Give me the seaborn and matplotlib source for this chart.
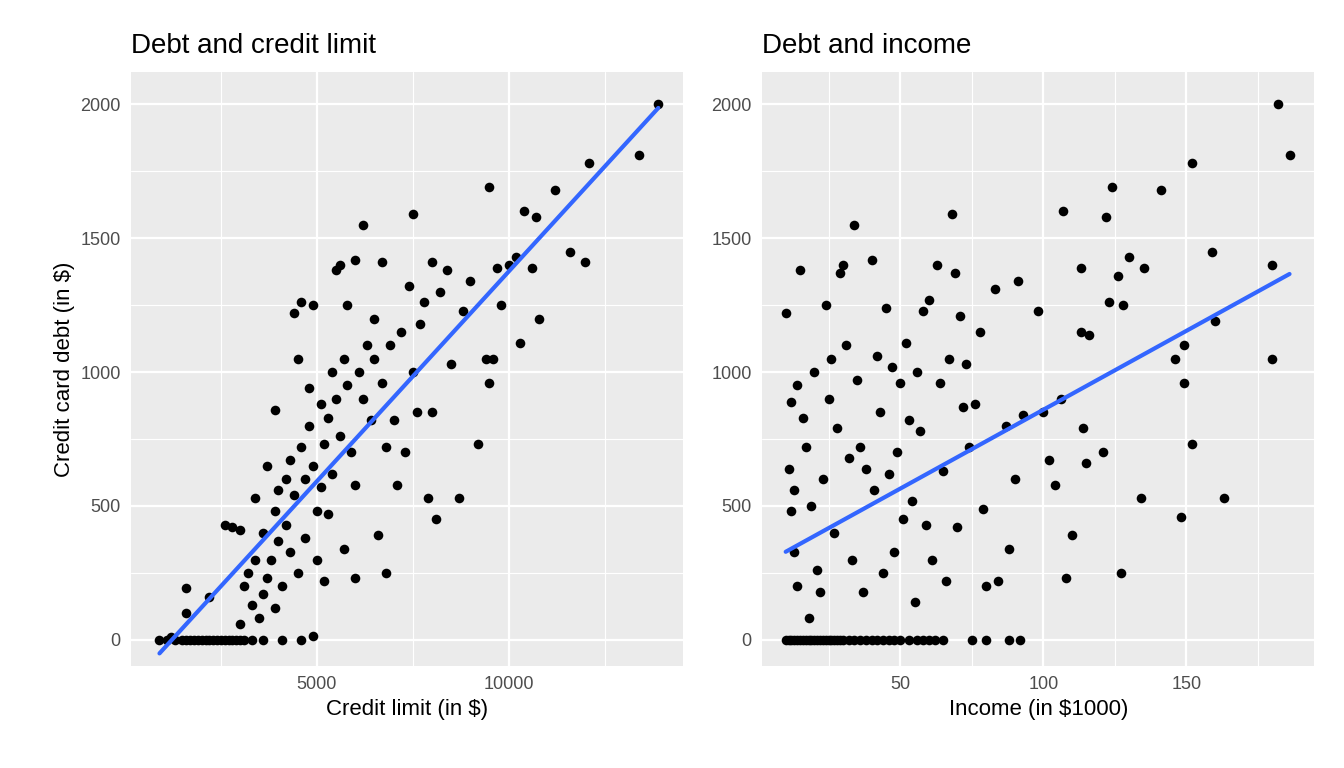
import matplotlib
matplotlib.use("Agg")
import matplotlib.pyplot as plt
import seaborn as sns
import pandas as pd

limit = [900,1100,1200,1300,1500,1600,1700,1800,1900,2000,2100,2200,2300,2400,2500,2600,2700,2800,2900,3000,3100,3300,3600,4100,4600,4900,
1600,1600,2200,2600,2800,3000,3000,3100,3200,3300,3400,3400,3500,3600,3600,3700,3700,3800,3900,3900,3900,4000,4000,4100,4200,4200,4300,4300,4400,4400,4500,4500,4600,4600,4700,4700,4800,4800,4900,4900,5000,5000,5100,5100,5200,5200,5300,5300,5400,5400,5500,5500,5600,5600,5700,5700,5800,5800,5900,6000,6000,6000,6100,6200,6200,6300,6400,6500,6500,6600,6700,6700,6800,6800,6900,7000,7100,7200,7300,7400,7500,7500,7600,7700,7800,7900,8000,8000,8100,8200,8400,8500,8700,8800,9000,9200,9400,9500,9500,9600,9700,9800,10000,10200,10300,10400,10600,10700,10800,11200,11600,12000,12100,13400,13900]
debt_l = [0,0,10,0,0,0,0,0,0,0,0,0,0,0,0,0,0,0,0,0,0,0,0,0,0,15,
100,195,160,430,420,410,60,200,250,130,530,300,80,400,170,650,230,300,860,480,120,370,560,200,600,430,670,330,1220,540,1050,250,1260,720,600,380,940,800,1250,650,480,300,880,570,220,730,830,470,1000,620,1380,900,1400,760,1050,340,1250,950,700,1420,580,230,1000,1550,900,1100,820,1200,1050,390,1410,960,250,720,1100,820,580,1150,700,1320,1590,1000,850,1180,1260,530,1410,850,450,1300,1380,1030,530,1230,1340,730,1050,960,1690,1050,1390,1250,1400,1430,1110,1600,1390,1580,1200,1680,1450,1410,1780,1810,2000]

income = [10,11,12,13,14,15,16,17,18,19,20,21,22,23,24,25,26,27,28,29,30,32,34,36,38,40,42,44,46,48,50,53,56,58,60,62,65,75,80,88,92,
10,11,12,13,14,12,13,14,15,16,17,18,19,20,21,22,23,24,25,26,27,28,29,30,31,32,33,34,35,36,37,38,40,41,42,43,44,45,46,47,48,49,50,51,52,53,54,55,56,57,58,59,60,61,63,64,65,66,67,68,69,70,71,72,73,74,76,78,79,80,83,84,87,88,90,91,93,98,100,102,104,106,107,108,110,113,113,114,115,116,121,122,123,124,126,127,128,130,134,135,141,146,148,149,149,152,152,159,160,163,180,180,182,186]
debt_r = [0]*41 + [1220,640,890,330,200,480,560,950,1380,830,720,80,500,1000,260,180,600,1250,900,1050,400,790,1370,1400,1100,680,300,1550,970,720,180,640,1420,560,1060,850,250,1240,620,1020,330,700,960,450,1110,820,520,140,1000,780,1230,430,1270,300,1400,960,630,220,1050,1590,1370,420,1210,870,1030,720,880,1150,490,200,1310,220,800,340,600,1340,840,1230,850,670,580,900,1600,230,390,1390,1150,790,660,1140,700,1580,1260,1690,1360,250,1250,1430,530,1390,1680,1050,460,1100,960,1780,730,1450,1190,530,1400,1050,2000,1810]

dl = pd.DataFrame({"x": limit, "y": debt_l})
dr = pd.DataFrame({"x": income, "y": debt_r})

sns.set_theme(style="darkgrid", rc={"axes.facecolor": "#EBEBEB", "grid.color": "white"})
plt.rcParams['font.family'] = ['Liberation Sans', 'DejaVu Sans']
fig, axes = plt.subplots(1, 2, figsize=(13.44, 7.68), dpi=100)
specs = [(axes[0], dl, "Debt and credit limit", "Credit limit (in $)", (159, 14550), [5000, 10000], [2500, 7500, 12500]),
         (axes[1], dr, "Debt and income", "Income (in $1000)", (1.8, 194.7), [50, 100, 150], [25, 75, 125, 175])]
for i, (ax, d, title, xl, xlim, xt, xm) in enumerate(specs):
    sns.regplot(data=d, x="x", y="y", ax=ax, ci=None,
                scatter_kws=dict(color="black", s=48, alpha=1, linewidths=0),
                line_kws=dict(color="#3366FF", lw=3))
    ax.set_xlim(*xlim); ax.set_ylim(-97, 2120)
    ax.set_xticks(xt); ax.set_xticks(xm, minor=True)
    ax.set_yticks([0, 500, 1000, 1500, 2000]); ax.set_yticks([250, 750, 1250, 1750], minor=True)
    ax.grid(which="major", color="white", lw=1.6)
    ax.grid(which="minor", color="white", lw=0.8)
    ax.tick_params(axis="both", which="major", labelsize=13, labelcolor="#4D4D4D", length=4, color="#333333")
    ax.tick_params(which="minor", length=0)
    for s in ax.spines.values():
        s.set_visible(False)
    ax.set_title(title, loc="left", fontsize=20, pad=14, color="black")
    ax.set_xlabel(xl, fontsize=16, color="black")
    ax.set_ylabel("Credit card debt (in $)" if i == 0 else "", fontsize=16, color="black")
fig.subplots_adjust(left=0.0975, right=0.978, bottom=0.133, top=0.906, wspace=0.143)
fig.savefig("out.png", dpi=100)
